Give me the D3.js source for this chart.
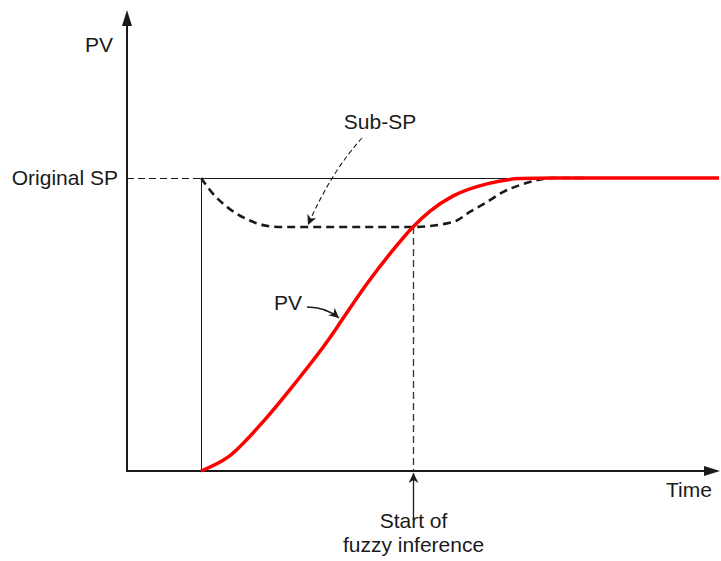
<!DOCTYPE html>
<html lang="en">
<head>
<meta charset="UTF-8">
<title>Fuzzy inference PV</title>
<style>
  body { margin: 0; background: #fff; }
  text { font-family: "Liberation Sans", Arial, sans-serif; font-size: 21px; fill: #1a1a1a; }
</style>
</head>
<body>
<svg id="svg" width="721" height="561"></svg>
<script src="https://d3js.org/d3.v7.min.js"></script>
<script>
// time (0..100) and PV (0..100, 100 = original SP)
const pvTime = [12.5, 17.1, 22.8, 28.4, 34.0, 36.3, 40.5, 44.4, 48.3, 51.2, 55.1, 60.8, 66.4, 72.0, 100]
const pvValue = [0, 4.8, 16.4, 30.0, 44.7, 51.5, 63.8, 74.1, 83.3, 88.7, 93.9, 98.0, 99.8, 100, 100]
const subTime = [12.5, 14.4, 17.1, 19.9, 22.8, 25.5, 48.3, 55.1, 57.9, 60.8, 63.5, 66.4, 72.0, 77.0]
const subValue = [100, 94.9, 89.8, 86.3, 84.0, 83.3, 83.3, 85.0, 88.4, 91.8, 95.2, 97.6, 100, 100]
const spValue = 100
const stepTime = 12.5
const fuzzyTime = 48.3
const fuzzyValue = 83.3

const svg = d3.select("#svg")
const x = d3.scaleLinear().domain([0, 100]).range([127, 719])
const y = d3.scaleLinear().domain([0, 100]).range([471, 178])

const defs = svg.append("defs")
defs.append("marker").attr("id", "ah").attr("viewBox", "0 0 10 10").attr("refX", 10).attr("refY", 5)
  .attr("markerWidth", 10).attr("markerHeight", 10).attr("markerUnits", "userSpaceOnUse").attr("orient", "auto")
  .append("path").attr("d", "M0,0 L10,5 L0,10 L3,5 Z").attr("fill", "#1a1a1a")

// axes
const x0 = x(0), y0 = y(0)
svg.append("line").attr("x1", x0).attr("y1", y0 + 1).attr("x2", x0).attr("y2", 22).attr("stroke", "#1a1a1a").attr("stroke-width", 2)
svg.append("path").attr("d", `M${x0},10 L${x0 - 5},26 L${x0 + 5},26 Z`).attr("fill", "#1a1a1a")
svg.append("line").attr("x1", x0 - 1).attr("y1", y0).attr("x2", 706).attr("y2", y0).attr("stroke", "#1a1a1a").attr("stroke-width", 2)
svg.append("path").attr("d", `M720,${y0} L704,${y0 - 5} L704,${y0 + 5} Z`).attr("fill", "#1a1a1a")

// original SP reference
const ySP = Math.round(y(spValue)) + 0.5
const xStep = Math.round(x(stepTime)) + 0.5
svg.append("line").attr("x1", x0).attr("x2", xStep).attr("y1", ySP).attr("y2", ySP)
  .attr("stroke", "#1a1a1a").attr("stroke-width", 1).attr("stroke-dasharray", "7,4")
svg.append("line").attr("x1", xStep).attr("x2", x(100)).attr("y1", ySP).attr("y2", ySP)
  .attr("stroke", "#1a1a1a").attr("stroke-width", 1)
svg.append("line").attr("x1", xStep).attr("x2", xStep).attr("y1", ySP).attr("y2", y0)
  .attr("stroke", "#1a1a1a").attr("stroke-width", 1)

// fuzzy inference marker
const xF = Math.round(x(fuzzyTime)) + 0.5
svg.append("line").attr("x1", xF).attr("x2", xF).attr("y1", y(fuzzyValue)).attr("y2", y0)
  .attr("stroke", "#333").attr("stroke-width", 1.3).attr("stroke-dasharray", "7,4")
svg.append("line").attr("x1", xF).attr("x2", xF).attr("y1", 520).attr("y2", y0 + 2)
  .attr("stroke", "#1a1a1a").attr("stroke-width", 1.3).attr("marker-end", "url(#ah)")

const line = d3.line().x(d => x(d[0])).y(d => y(d[1])).curve(d3.curveMonotoneX)

// sub-SP
svg.append("path").attr("d", line(d3.zip(subTime, subValue)))
  .attr("fill", "none").attr("stroke", "#1a1a1a").attr("stroke-width", 2.6).attr("stroke-dasharray", "8,5")

// PV
svg.append("path").attr("d", line(d3.zip(pvTime, pvValue)))
  .attr("fill", "none").attr("stroke", "#ff0000").attr("stroke-width", 3.5)

// labels
svg.append("text").attr("x", 99).attr("y", 52).attr("text-anchor", "middle").text("PV")
svg.append("text").attr("x", 118).attr("y", 185).attr("text-anchor", "end").text("Original SP")
svg.append("text").attr("x", 689).attr("y", 497).attr("text-anchor", "middle").text("Time")
svg.append("text").attr("x", xF).attr("y", 528).attr("text-anchor", "middle").text("Start of")
svg.append("text").attr("x", xF).attr("y", 552).attr("text-anchor", "middle").text("fuzzy inference")
svg.append("text").attr("x", 380).attr("y", 129).attr("text-anchor", "middle").text("Sub-SP")
svg.append("text").attr("x", 288).attr("y", 310).attr("text-anchor", "middle").text("PV")

// annotation arrows
svg.append("path").attr("d", "M362,138 Q331,172 308,225")
  .attr("fill", "none").attr("stroke", "#1a1a1a").attr("stroke-width", 1.1).attr("stroke-dasharray", "5,3").attr("marker-end", "url(#ah)")
svg.append("path").attr("d", "M307,307 Q326,307 339,318")
  .attr("fill", "none").attr("stroke", "#1a1a1a").attr("stroke-width", 1.3).attr("marker-end", "url(#ah)")
</script>
</body>
</html>
